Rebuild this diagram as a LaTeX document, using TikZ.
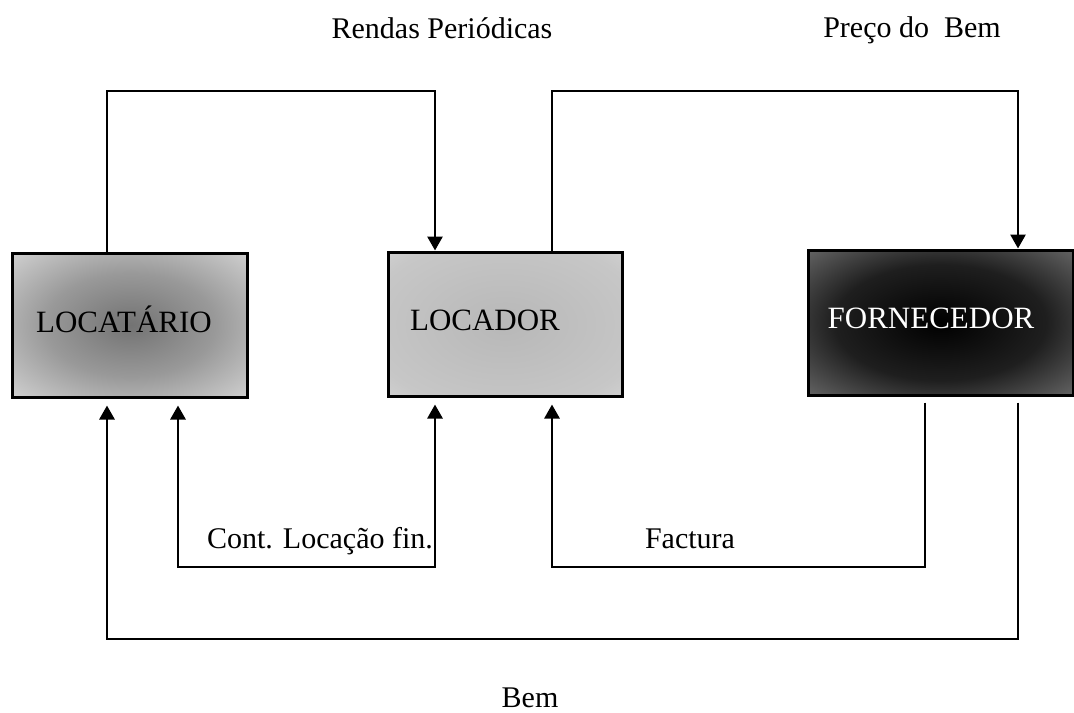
\documentclass[tikz,border=0pt]{standalone}
\usepackage{fontspec}
\setmainfont{Liberation Serif}
\usetikzlibrary{arrows.meta}
% mottled fills of the three boxes
\pgfdeclareradialshading{blotdark}{\pgfpoint{0bp}{0bp}}{color(0bp)=(black); color(20bp)=(black!88); color(36bp)=(black!60); color(50bp)=(black!22)}
\pgfdeclareradialshading{blotmid}{\pgfpoint{0bp}{0bp}}{color(0bp)=(black!55); color(18bp)=(black!40); color(36bp)=(black!18); color(50bp)=(black!6)}
\pgfdeclareradialshading{blotlight}{\pgfpoint{0bp}{0bp}}{color(0bp)=(black!28); color(30bp)=(black!22); color(50bp)=(black!10)}

\begin{document}
\begin{tikzpicture}[x=0.5pt, y=-0.5pt,
 every node/.style={font=\fontsize{15}{18}\selectfont},
 party/.style={draw, line width=1.5pt, rectangle, inner sep=0pt, minimum height=72pt},
 boxname/.style={font=\fontsize{15.5}{18}\selectfont, anchor=base, inner sep=0pt},
 caption/.style={anchor=base, inner sep=0pt},
 tip/.tip={Triangle[length=7pt, width=7.5pt]},
 flow/.style={line width=1.4pt, -tip}]

 \useasboundingbox (0,0) rectangle (1074,712);

 % boxes
 \node[party, shading=blotmid, minimum width=117.5pt] (lta) at (130.35,325) {};
 \node[party, shading=blotlight, minimum width=117pt] (ldr) at (505,324) {};
 \node[party, shading=blotdark, minimum width=132.5pt, minimum height=72.5pt] (fnc) at (940.5,322.5) {};
 \node[boxname] (ltatext) at (124,332) {LOCATÁRIO};
 \node[boxname] (ldrtext) at (485,330) {LOCADOR};
 \node[boxname, text=white] (fnctext) at (931,328) {FORNECEDOR};

 % columns and rows of the connectors
 \coordinate (xa) at (107,0);
 \coordinate (xb) at (178,0);
 \coordinate (xc) at (435,0);
 \coordinate (xd) at (552,0);
 \coordinate (xe) at (925,0);
 \coordinate (xf) at (1018,0);
 \coordinate (ytop) at (0,91);
 \coordinate (ymid) at (0,567);
 \coordinate (ylow) at (0,639);

 % upper loops
 \draw[flow] (lta.north -| xa) |- (ytop -| xc) -- (ldr.north -| xc);
 \draw[flow] (ldr.north -| xd) |- (ytop -| xf) -- (fnc.north -| xf);

 % lower loops
 \draw[flow, tip-tip, shorten <=3.5pt, shorten >=3.5pt]
  (lta.south -| xb) -- (ymid -| xb) -- (ymid -| xc) -- (ldr.south -| xc);
 \draw[flow, shorten <=3pt, shorten >=3.5pt] (fnc.south -| xe) |- (ymid -| xd) -- (ldr.south -| xd);
 \draw[flow, shorten <=3pt, shorten >=3.5pt] (fnc.south -| xf) |- (ylow -| xa) -- (lta.south -| xa);

 % labels
 \node[caption] (rendas) at (442,38) {Rendas Periódicas};
 \node[caption] (preco) at (912,37) {Preço do~ Bem};
 \node[caption] (contrato) at (320,548) {Cont. Locação fin.};
 \node[caption] (factura) at (690,548) {Factura};
 \node[caption] (bem) at (530,707) {Bem};
\end{tikzpicture}
\end{document}
